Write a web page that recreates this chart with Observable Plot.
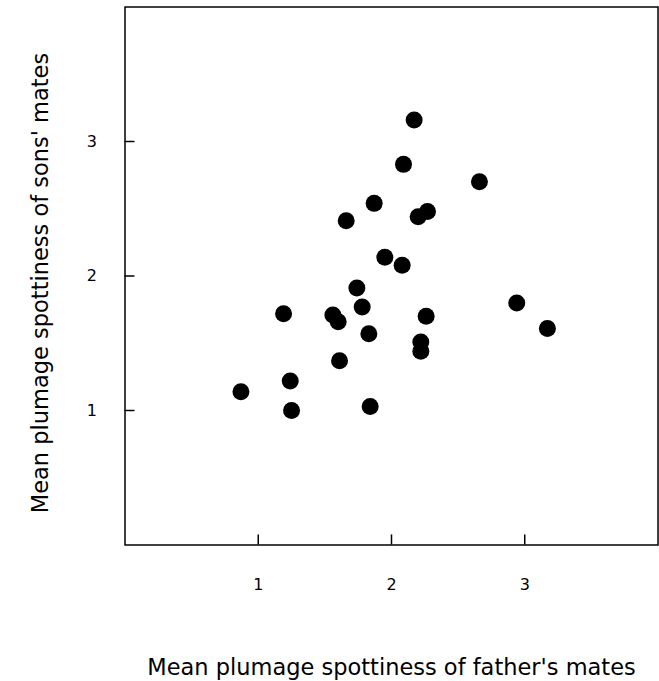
<!DOCTYPE html>
<html>
<head>
<meta charset="utf-8">
<script src="https://cdn.jsdelivr.net/npm/d3@7"></script>
<script src="https://cdn.jsdelivr.net/npm/@observablehq/plot@0.6"></script>
<style>
  html, body { margin: 0; padding: 0; background: #fff; }
  #chart svg { display: block; }
</style>
</head>
<body>
<div id="chart"></div>
<script>
const fathersMates = [0.87, 1.24, 1.25, 1.19, 1.56, 1.60, 1.61, 1.66, 1.74, 1.78, 1.83, 1.84, 1.87, 1.95, 2.08, 2.09, 2.17, 2.20, 2.27, 2.22, 2.22, 2.26, 2.66, 2.94, 3.17];
const sonsMates    = [1.14, 1.22, 1.00, 1.72, 1.71, 1.66, 1.37, 2.41, 1.91, 1.77, 1.57, 1.03, 2.54, 2.14, 2.08, 2.83, 3.16, 2.44, 2.48, 1.51, 1.44, 1.70, 2.70, 1.80, 1.61];
const xTicks = [1, 2, 3];
const yTicks = [1, 2, 3];
const xTitle = "Mean plumage spottiness of father's mates";
const yTitle = "Mean plumage spottiness of sons' mates";

const data = fathersMates.map((x, i) => ({x, y: sonsMates[i]}));
const font = "'DejaVu Sans', sans-serif";

const chart = Plot.plot({
  width: 659,
  height: 681,
  marginLeft: 124.5,
  marginRight: 1.5,
  marginTop: 6.5,
  marginBottom: 136.5,
  style: {fontFamily: font, background: "#fff", color: "#000"},
  x: {domain: [0, 4]},
  y: {domain: [0, 4]},
  marks: [
    Plot.frame({stroke: "#000", strokeWidth: 1.5}),
    Plot.ruleX(xTicks, {y1: 0, y2: 0.075, stroke: "#000", strokeWidth: 1.5}),
    Plot.ruleY(yTicks, {x1: 0, x2: 0.075, stroke: "#000", strokeWidth: 1.5}),
    Plot.axisX({ticks: xTicks, tickSize: 0, tickPadding: 34, fontSize: 16, tickFormat: d3.format("d"), label: null}),
    Plot.axisY({ticks: yTicks, tickSize: 0, tickPadding: 28, fontSize: 16, tickFormat: d3.format("d"), label: null}),
    Plot.text([xTitle], {frameAnchor: "bottom", lineAnchor: "middle", dy: 122.5, fontSize: 22.5, fill: "#000"}),
    Plot.text([yTitle], {frameAnchor: "left", textAnchor: "middle", lineAnchor: "middle", rotate: -90, dx: -84.5, dy: 7, fontSize: 22.5, fill: "#000"}),
    Plot.dot(data, {x: "x", y: "y", r: 8.5, fill: "#000", stroke: "none"})
  ]
});
document.getElementById("chart").append(chart);
</script>
</body>
</html>
